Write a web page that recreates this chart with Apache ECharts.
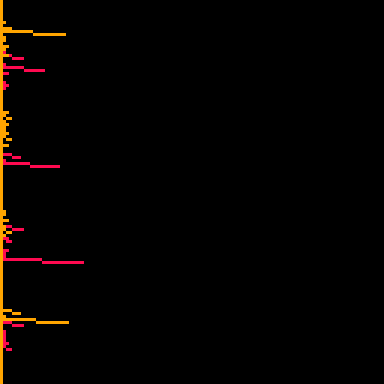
<!DOCTYPE html>
<html>
<head>
<meta charset="utf-8">
<style>
html,body{margin:0;padding:0;background:#000;}
#c{width:384px;height:384px;}
</style>
<script src="https://cdn.jsdelivr.net/npm/echarts@6/dist/echarts.min.js"></script>
</head>
<body>
<div id="c"></div>
<script>
// 128 category rows, top to bottom
var rowCount = 128;
var categories = [];
for (var i = 1; i <= rowCount; i++) categories.push(String(i));

// Orange segments: row index, start value, end value
var orangeRows = [7, 9, 10, 11, 12, 13, 15, 16, 18,
                  37, 38, 39, 40, 41, 42, 43, 44, 45, 46, 48,
                  70, 71, 73, 75, 76, 77, 78,
                  103, 104, 105, 106, 107];
var orangeFrom = [0, 0, 0, 10, 0, 0, 0, 0, 0,
                  0, 0, 1, 0, 0, 0, 0, 0, 0, 1, 0,
                  0, 0, 0, 0, 0, 1, 0,
                  0, 3, 0, 0, 11];
var orangeTo   = [1, 3, 10, 21, 1, 1, 2, 1, 2,
                  2, 1, 3, 1, 2, 1, 1, 2, 1, 3, 2,
                  1, 1, 2, 1, 1, 3, 1,
                  3, 6, 1, 11, 22];

// Crimson segments: row index, start value, end value
var crimsonRows = [17, 18, 19, 21, 22, 23, 24, 27, 28, 29,
                   51, 52, 53, 54, 55,
                   75, 76, 79, 80, 83, 84, 85, 86, 87,
                   107, 108, 110, 111, 112, 113, 114, 115, 116];
var crimsonFrom = [0, 2, 3, 0, 0, 7, 0, 0, 0, 0,
                   0, 3, 0, 0, 9,
                   1, 3, 0, 1, 0, 0, 0, 0, 13,
                   0, 3, 0, 0, 0, 0, 0, 0, 1];
var crimsonTo   = [1, 3, 7, 1, 7, 14, 2, 1, 2, 1,
                   3, 6, 1, 9, 19,
                   3, 7, 2, 3, 2, 1, 1, 13, 27,
                   3, 7, 1, 1, 1, 1, 2, 1, 3];

function build(rows, from, to) {
  var base = [], len = [];
  for (var i = 0; i < rowCount; i++) { base.push('-'); len.push('-'); }
  for (var k = 0; k < rows.length; k++) {
    base[rows[k]] = from[k];
    len[rows[k]] = to[k] - from[k];
  }
  return {base: base, len: len};
}
var o = build(orangeRows, orangeFrom, orangeTo);
var c = build(crimsonRows, crimsonFrom, crimsonTo);

var ORANGE = '#FFA500', CRIMSON = '#FF0A50';
var chart = echarts.init(document.getElementById('c'), null, {renderer: 'canvas'});
chart.setOption({
  backgroundColor: '#000000',
  animation: false,
  grid: {left: 0, right: 0, top: 0, bottom: 0, containLabel: false},
  xAxis: {type: 'value', min: -1, max: 127, show: false},
  yAxis: {
    type: 'category', data: categories, inverse: true,
    axisLine: {show: true, onZero: false, lineStyle: {color: ORANGE, width: 6}},
    axisTick: {show: false}, axisLabel: {show: false}, splitLine: {show: false}
  },
  series: [
    {type: 'bar', stack: 'o', data: o.base, barCategoryGap: '0%', barGap: '-100%',
     itemStyle: {color: 'rgba(0,0,0,0)'}, silent: true},
    {type: 'bar', stack: 'o', data: o.len, barCategoryGap: '0%', barGap: '-100%',
     itemStyle: {color: ORANGE}},
    {type: 'bar', stack: 'c', data: c.base, barCategoryGap: '0%', barGap: '-100%',
     itemStyle: {color: 'rgba(0,0,0,0)'}, silent: true},
    {type: 'bar', stack: 'c', data: c.len, barCategoryGap: '0%', barGap: '-100%',
     itemStyle: {color: CRIMSON}}
  ]
});
</script>
</body>
</html>
